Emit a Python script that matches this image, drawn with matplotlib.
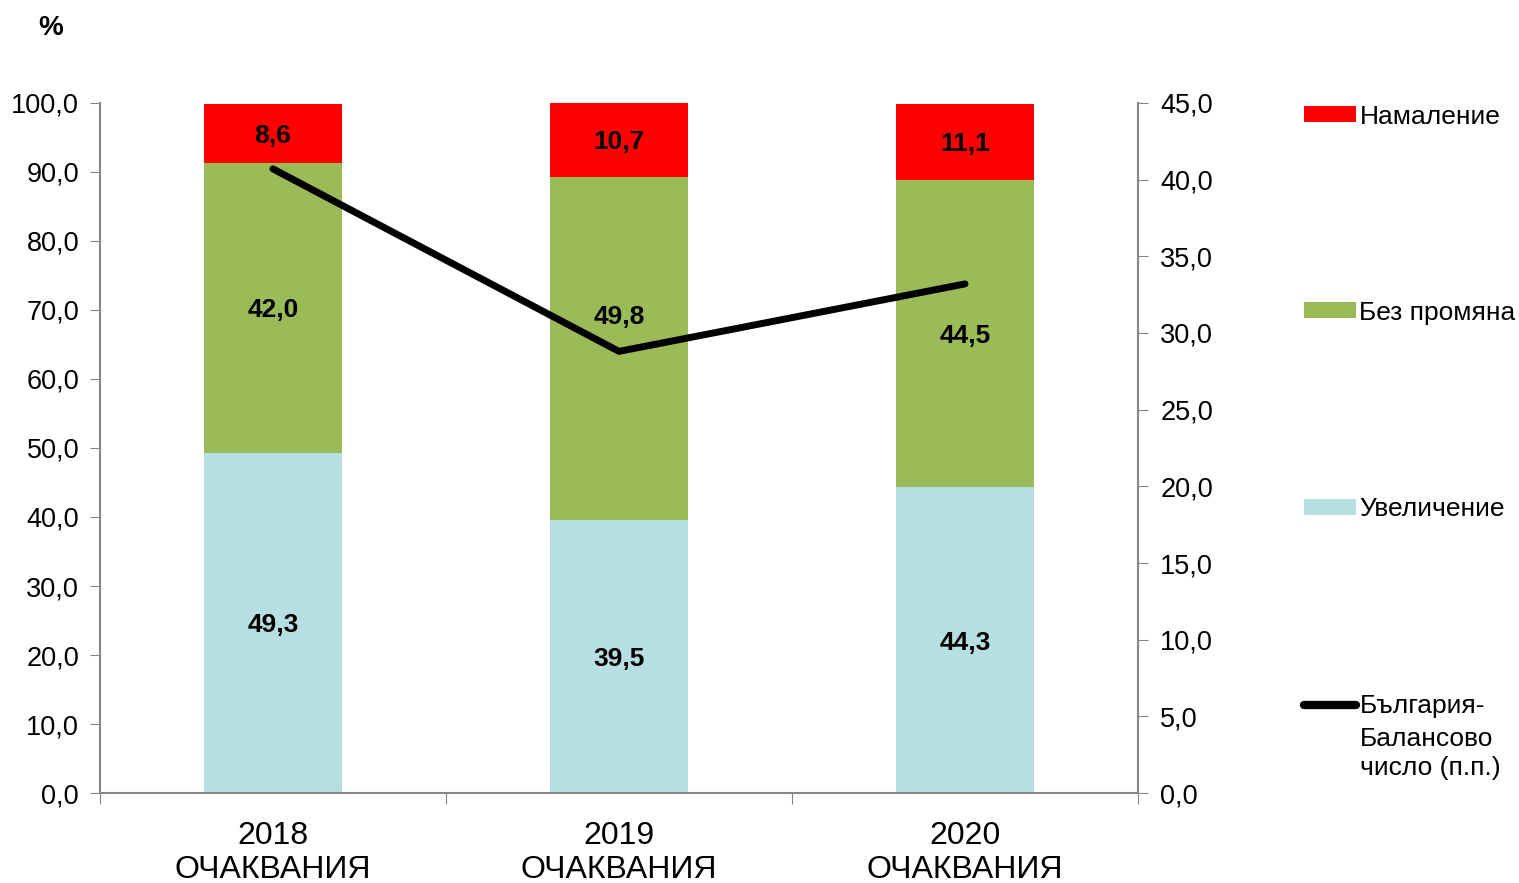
import numpy as np
import matplotlib.pyplot as plt
from matplotlib.patches import Patch
from matplotlib.lines import Line2D
from matplotlib.ticker import FuncFormatter

plt.rcParams['font.family'] = ['Liberation Sans', 'DejaVu Sans']

# data
years = ['2018\nОЧАКВАНИЯ', '2019\nОЧАКВАНИЯ', '2020\nОЧАКВАНИЯ']
increase = [49.3, 39.5, 44.3]
no_change = [42.0, 49.8, 44.5]
decrease = [8.6, 10.7, 11.1]
balance = [40.7, 28.8, 33.2]
# the middle label of 2019 sits a bit higher, away from the line
same_label_shift = [0, 5, 0]

c_inc = '#B7DFE2'
c_same = '#9BBB59'
c_dec = '#FF0000'
grey = '#868686'

fig = plt.figure(figsize=(15.19, 8.83), dpi=100)
ax = fig.add_axes([0.0658, 0.1019, 0.6834, 0.7815])
x = np.arange(len(years))
w = 0.4

b1 = ax.bar(x, increase, w, color=c_inc)
b2 = ax.bar(x, no_change, w, bottom=increase, color=c_same)
bot3 = np.array(increase) + np.array(no_change)
b3 = ax.bar(x, decrease, w, bottom=bot3, color=c_dec)

# value labels in the middle of each segment
shifts = [np.zeros(3), same_label_shift, np.zeros(3)]
for vals, bots, sh in zip([increase, no_change, decrease], [np.zeros(3), increase, bot3], shifts):
    for xi, v, b, s in zip(x, vals, bots, sh):
        ax.text(xi, b + v / 2 + s, f'{v:.1f}'.replace('.', ','), ha='center',
                va='center_baseline', fontsize=19, fontweight='bold', color='black')

ax.set_xlim(-0.5, 2.5)
ax.set_ylim(0, 100)
ax.set_yticks(np.arange(0, 101, 10))
fmt = FuncFormatter(lambda v, p: f'{v:.1f}'.replace('.', ','))
ax.yaxis.set_major_formatter(fmt)
ax.tick_params(axis='y', labelsize=19.5, length=7, color=grey, pad=8)

# category ticks at boundaries, labels in the middle
ax.set_xticks([-0.5, 0.5, 1.5, 2.5])
ax.set_xticklabels([])
ax.set_xticks(x, minor=True)
ax.set_xticklabels(years, minor=True, fontsize=23, linespacing=1.2)
ax.tick_params(axis='x', which='major', length=8, color=grey)
ax.tick_params(axis='x', which='minor', length=0, pad=20)

for s in ['top', 'right']:
    ax.spines[s].set_visible(False)
for s in ['left', 'bottom']:
    ax.spines[s].set_color(grey)
    ax.spines[s].set_linewidth(1.5)

# right axis with the balance line
ax2 = ax.twinx()
ax2.plot(x, balance, color='black', linewidth=5, solid_capstyle='round')
ax2.set_ylim(0, 45)
ax2.set_yticks(np.arange(0, 46, 5))
ax2.yaxis.set_major_formatter(fmt)
ax2.tick_params(axis='y', labelsize=19.5, length=7, color=grey, pad=9)
for s in ['top', 'left', 'bottom']:
    ax2.spines[s].set_visible(False)
ax2.spines['right'].set_color(grey)
ax2.spines['right'].set_linewidth(1.5)

fig.text(0.025, 0.968, '%', fontsize=20, fontweight='bold', va='center')

# legend, one entry at a time
entries = [
    (Patch(facecolor=c_dec), 'Намаление', 0.868),
    (Patch(facecolor=c_same), 'Без промяна', 0.646),
    (Patch(facecolor=c_inc), 'Увеличение', 0.423),
    (Line2D([], [], color='black', linewidth=6, solid_capstyle='round'), 'България-', 0.2),
]
for h, lab, yy in entries:
    leg = fig.legend([h], [lab], loc='center left', bbox_to_anchor=(0.8585, yy),
                     frameon=False, fontsize=19, handlelength=1.95, handleheight=0.55,
                     handletextpad=0.15, borderpad=0, borderaxespad=0)
fig.text(0.8955, 0.177, 'Балансово\nчисло (п.п.)', fontsize=19, va='top', ha='left',
         linespacing=1.28)

fig.savefig('out.png', dpi=100)
